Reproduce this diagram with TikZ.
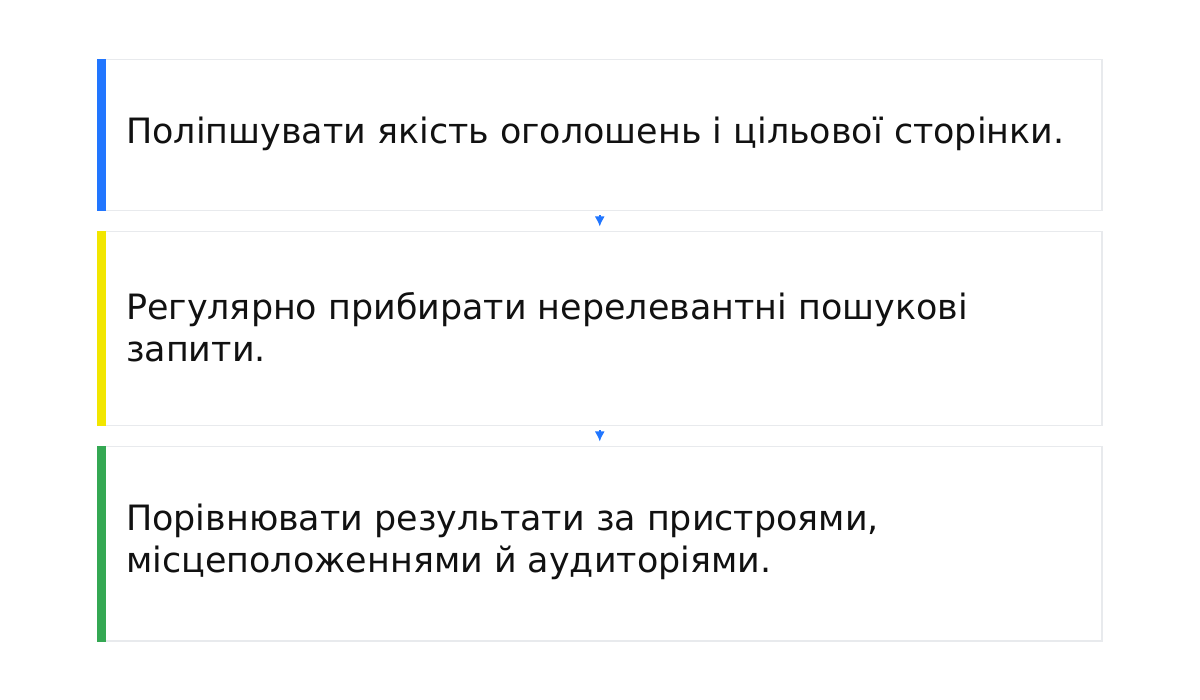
\documentclass[tikz,border=0pt]{standalone}
\usepackage{fontspec}
\setmainfont{DejaVu Sans}
\usetikzlibrary{arrows.meta}
\definecolor{bordergray}{HTML}{E8EAED}
\definecolor{barblue}{HTML}{2176FF}
\definecolor{baryellow}{HTML}{F2E600}
\definecolor{bargreen}{HTML}{34A853}
\definecolor{txt}{HTML}{111111}
\tikzset{
  card/.style={draw=bordergray, line width=1.5pt, fill=white, minimum width=1004pt, inner sep=0pt, anchor=north west},
  cardtext/.style={anchor=west, align=left, inner sep=0pt, text=txt, font=\fontsize{34.9}{42.5}\selectfont},
  link/.style={draw=barblue, line width=1.6pt, -{Latex[length=10pt,width=10pt]}, shorten <=4pt, shorten >=4.5pt},
}
\begin{document}
\begin{tikzpicture}[x=1pt,y=-1pt]
\useasboundingbox (0,0) rectangle (1200,700);
\fill[white] (0,0) rectangle (1200,700);
% cards
\node[card, minimum height=151pt] (c1) at (97,59) {};
\node[card, minimum height=194pt] (c2) at (97,231) {};
\node[card, minimum height=194pt] (c3) at (97,446) {};
% bars
\fill[barblue] (c1.north west) rectangle ([xshift=9pt]c1.south west);
\fill[baryellow] (c2.north west) rectangle ([xshift=9pt]c2.south west);
\fill[bargreen] (c3.north west) rectangle ([xshift=9pt]c3.south west);
% texts
\node[cardtext] (t1) at (126,134) {Поліпшувати якість оголошень і цільової сторінки.};
\node[cardtext] (t2) at (126,327) {Регулярно прибирати нерелевантні пошукові\\запити.};
\node[cardtext] (t3) at (126,542) {Порівнювати результати за пристроями,\\місцеположеннями й аудиторіями.};
% connectors
\draw[link] (c1.south) -- (c2.north);
\draw[link] (c2.south) -- (c3.north);
\end{tikzpicture}
\end{document}
